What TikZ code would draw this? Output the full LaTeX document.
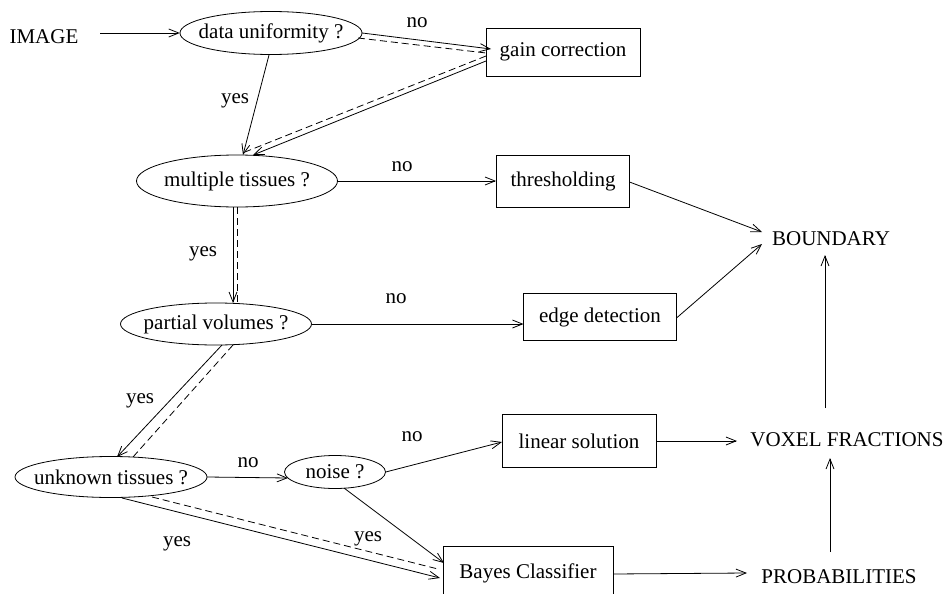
\documentclass[tikz,border=0pt]{standalone}
\usepackage{fontspec}
\setmainfont{Liberation Serif}
\usetikzlibrary{shapes.geometric,arrows.meta}
\begin{document}
\begin{tikzpicture}[x=1pt,y=-1pt,
  every node/.style={font=\fontsize{21}{25}\selectfont, inner sep=0pt},
  ell/.style={rectangle},
  box/.style={draw, rectangle, line width=0.8pt},
  lbl/.style={anchor=base},
  arr/.style={line width=0.8pt, -{Straight Barb[length=10pt,width=8pt]}},
  ln/.style={line width=0.8pt},
  dsh/.style={line width=0.8pt, dash pattern=on 7pt off 4pt}]
\useasboundingbox (0,0) rectangle (945,594);
% nodes
\node (image) at (44,37) {IMAGE};
\node[ell, minimum width=182pt, minimum height=43pt] (gu) at (271,33) {data uniformity ?};
\node[box, minimum width=154pt, minimum height=48pt] (gc) at (563,52) {gain correction};
\node[ell, minimum width=201pt, minimum height=52pt] (mt) at (237,181) {multiple tissues ?};
\node[box, minimum width=133pt, minimum height=52pt] (th) at (563,181) {thresholding};
\node[ell, minimum width=191pt, minimum height=42pt] (pv) at (216,324) {partial volumes ?};
\node[box, minimum width=153pt, minimum height=47pt] (ed) at (600,317) {edge detection};
\node (bd) at (831,239) {BOUNDARY};
\node[ell, minimum width=192pt, minimum height=41pt] (ut) at (111,477) {unknown tissues ?};
\node[ell, minimum width=101pt, minimum height=33pt] (ns) at (335,472) {noise ?};
\node[box, minimum width=154pt, minimum height=53pt] (ls) at (579,441) {linear solution};
\node[box, minimum width=170pt, minimum height=54pt] (bc) at (528,573) {Bayes Classifier};
\node (vf) at (847,440) {VOXEL FRACTIONS};
\node (pr) at (839,577) {PROBABILITIES};
% ellipse outlines
\draw[ln] (gu.center) ellipse [x radius=91pt, y radius=21.5pt];
\draw[ln] (mt.center) ellipse [x radius=100.5pt, y radius=26pt];
\draw[ln] (pv.center) ellipse [x radius=95.5pt, y radius=21pt];
\draw[ln] (ut.center) ellipse [x radius=96pt, y radius=20.5pt];
\draw[ln] (ns.center) ellipse [x radius=50.5pt, y radius=16.5pt];
% connectors
\draw[arr] ([shift={(56,-4)}]image.center) -- (gu.west);
\draw[arr] (gu.east) -- ([shift={(-72,-3)}]gc.center);
\draw[dsh] ([shift={(87,5)}]gu.center) -- ([shift={(-77,1)}]gc.center);
\draw[arr] ([shift={(-77,9)}]gc.center) -- ([shift={(16,-26)}]mt.center);
\draw[dsh] ([shift={(-77,4)}]gc.center) -- ([shift={(8,-29)}]mt.center);
\draw[arr] ([shift={(-2,22)}]gu.center) -- ([shift={(6,-26)}]mt.center);
\draw[arr] (mt.east) -- (th.west);
\draw[arr] ([shift={(-4,26)}]mt.center) -- ([shift={(17,-21)}]pv.center);
\draw[dsh] ([shift={(0,26)}]mt.center) -- ([shift={(21,-21)}]pv.center);
\draw[arr] (pv.east) -- ([shift={(-76.5,7)}]ed.center);
\draw[arr] ([shift={(66.5,1)}]th.center) -- ([shift={(-69,-7)}]bd.center);
\draw[arr] ([shift={(76.5,1)}]ed.center) -- ([shift={(-69,5)}]bd.center);
\draw[arr] ([shift={(-22,-32)}]vf.center) -- ([shift={(-6,16)}]bd.center);
\draw[arr] (ls.east) -- ([shift={(-110,1)}]vf.center);
\draw[arr] ([shift={(-9,-25)}]pr.center) -- ([shift={(-17,18)}]vf.center);
\draw[arr] ([shift={(85,1)}]bc.center) -- ([shift={(-92,-4)}]pr.center);
\draw[arr] ([shift={(6,21)}]pv.center) -- ([shift={(6,-20)}]ut.center);
\draw[dsh] ([shift={(17,21)}]pv.center) -- ([shift={(22,-20)}]ut.center);
\draw[arr] (ut.east) -- ([shift={(-47,6)}]ns.center);
\draw[arr] (ns.east) -- ([shift={(-77,1)}]ls.center);
\draw[arr] ([shift={(9,16)}]ns.center) -- ([shift={(-84,-10)}]bc.center);
\draw[arr] ([shift={(11,21)}]ut.center) -- ([shift={(-88,5)}]bc.center);
\draw[dsh] ([shift={(41,20)}]ut.center) -- ([shift={(-90,-4)}]bc.center);
% labels
\node[lbl] (l1) at (417,28) {no};
\node[lbl] (l2) at (235,103) {yes};
\node[lbl] (l3) at (402,171) {no};
\node[lbl] (l4) at (203,256) {yes};
\node[lbl] (l5) at (396,303) {no};
\node[lbl] (l6) at (140,403) {yes};
\node[lbl] (l7) at (248,467) {no};
\node[lbl] (l8) at (412,441) {no};
\node[lbl] (l9) at (368,541) {yes};
\node[lbl] (l10) at (177,546) {yes};
\end{tikzpicture}
\end{document}
